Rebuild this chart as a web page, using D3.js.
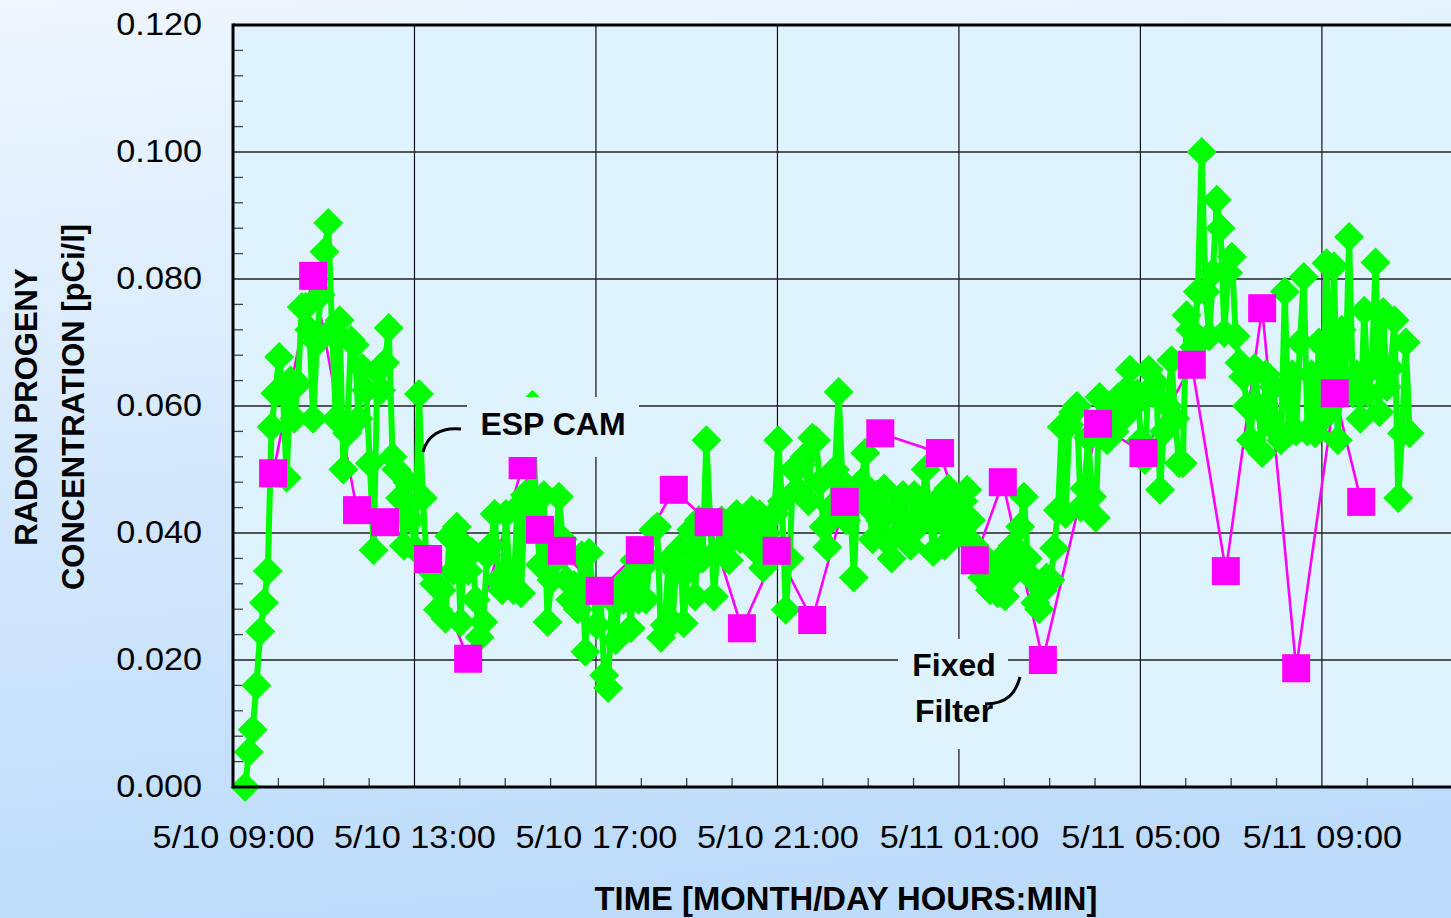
<!DOCTYPE html>
<html><head><meta charset="utf-8">
<script src="https://cdn.jsdelivr.net/npm/d3@7"></script>
<style>html,body{margin:0;padding:0;overflow:hidden;background:#fff}</style>
</head><body>
<svg id="c" width="1451" height="918"></svg>
<script>
// ---------------- DATA ----------------
const espStart = "5/10 09:16";
const espIntervalMinutes = 5;
const espValues = [
  // 09:16 - 09:56
  0.000, 0.0055, 0.009, 0.016, 0.0245, 0.029, 0.034, 0.0567, 0.062,
  // 10:00
  0.0677, 0.062, 0.0487, 0.064, 0.058, 0.0635, 0.0756, 0.0756, 0.072, 0.058, 0.070, 0.0775,
  // 11:00
  0.0843, 0.0888, 0.072, 0.058, 0.0735, 0.050, 0.0557, 0.0704, 0.0696, 0.058, 0.066, 0.0625,
  // 12:00
  0.051, 0.0373, 0.0655, 0.0625, 0.0668, 0.0723, 0.052, 0.050, 0.0455, 0.038, 0.048, 0.042,
  // 13:00
  0.0375, 0.0619, 0.0455, 0.036, 0.034, 0.032, 0.0279, 0.031, 0.0265, 0.0395, 0.034, 0.041,
  // 14:00
  0.026, 0.038, 0.034, 0.037, 0.0295, 0.0236, 0.026, 0.0365, 0.038, 0.043, 0.0326, 0.031,
  // 15:00
  0.043, 0.0326, 0.031, 0.044, 0.0305, 0.046, 0.0436, 0.0602, 0.042, 0.035, 0.046, 0.026,
  // 16:00
  0.0326, 0.0357, 0.0457, 0.039, 0.0326, 0.0295, 0.0318, 0.028, 0.0365, 0.0213, 0.0369, 0.031,
  // 17:00
  0.0255, 0.030, 0.0176, 0.0156, 0.0295, 0.0231, 0.031, 0.0295, 0.0326, 0.025, 0.0357, 0.0295,
  // 18:00
  0.0357, 0.0295, 0.0357, 0.0405, 0.041, 0.0235, 0.0255, 0.0357, 0.026, 0.034, 0.0376, 0.0258,
  // 19:00
  0.034, 0.0405, 0.030, 0.042, 0.036, 0.0546, 0.042, 0.030, 0.0373, 0.042, 0.038, 0.0357,
  // 20:00
  0.0405, 0.043, 0.039, 0.042, 0.039, 0.0436, 0.0373, 0.043, 0.0345, 0.040, 0.036, 0.043,
  // 21:00
  0.0546, 0.045, 0.0279, 0.036, 0.050, 0.0468, 0.0507, 0.052, 0.045, 0.055, 0.0546, 0.048,
  // 22:00
  0.041, 0.0378, 0.044, 0.050, 0.0622, 0.048, 0.042, 0.045, 0.033, 0.046, 0.048, 0.0526,
  // 23:00
  0.044, 0.039, 0.046, 0.042, 0.047, 0.0385, 0.036, 0.044, 0.040, 0.046, 0.042, 0.038,
  // 00:00
  0.046, 0.041, 0.044, 0.050, 0.043, 0.037, 0.045, 0.042, 0.038, 0.047, 0.041, 0.044,
  // 01:00
  0.040, 0.045, 0.0468, 0.042, 0.038, 0.035, 0.033, 0.036, 0.031, 0.034, 0.0305, 0.036,
  // 02:00
  0.030, 0.033, 0.038, 0.035, 0.041, 0.0457, 0.036, 0.033, 0.029, 0.028, 0.031, 0.033,
  // 03:00
  0.0326, 0.0376, 0.0436, 0.0567, 0.043, 0.057, 0.059, 0.060, 0.044, 0.047, 0.055, 0.0457,
  // 04:00
  0.0424, 0.0614, 0.058, 0.0546, 0.060, 0.056, 0.0614, 0.058, 0.0625, 0.0657, 0.060, 0.062,
  // 05:00
  0.0546, 0.0515, 0.0657, 0.062, 0.0636, 0.0468, 0.056, 0.060, 0.0672, 0.058, 0.051, 0.051,
  // 06:00
  0.0743, 0.072, 0.0693, 0.078, 0.100, 0.078, 0.071, 0.081, 0.0925, 0.088, 0.0715, 0.081,
  // 07:00
  0.0835, 0.071, 0.0668, 0.0646, 0.060, 0.0546, 0.066, 0.060, 0.0526, 0.065, 0.058, 0.063,
  // 08:00
  0.056, 0.0546, 0.078, 0.0557, 0.065, 0.056, 0.070, 0.0803, 0.056, 0.065, 0.0557, 0.070,
  // 09:00
  0.058, 0.0825, 0.060, 0.082, 0.0546, 0.072, 0.063, 0.0866, 0.062, 0.065, 0.058, 0.075,
  // 10:00
  0.062, 0.066, 0.0826, 0.059, 0.0748, 0.063, 0.066, 0.0735, 0.0455, 0.0557, 0.070, 0.0557
];

const fixedTimes = [
  "5/10 09:53", "5/10 10:46", "5/10 11:44", "5/10 12:21", "5/10 13:18", "5/10 14:11",
  "5/10 15:23", "5/10 15:46", "5/10 16:15", "5/10 17:05", "5/10 17:58", "5/10 18:43",
  "5/10 19:29", "5/10 20:13", "5/10 20:59", "5/10 21:46", "5/10 22:29", "5/10 23:16",
  "5/11 00:35", "5/11 01:21", "5/11 01:58", "5/11 02:51", "5/11 04:04", "5/11 05:04",
  "5/11 06:08", "5/11 06:53", "5/11 07:41", "5/11 08:26", "5/11 09:17", "5/11 09:52"
];
const fixedValues = [
  0.0494, 0.0805, 0.0436, 0.0417, 0.0359, 0.0202,
  0.0507, 0.0405, 0.0372, 0.0309, 0.0373, 0.0468,
  0.0417, 0.0250, 0.0372, 0.0263, 0.0449, 0.0557,
  0.0526, 0.0357, 0.0480, 0.0200, 0.0572, 0.0526,
  0.0665, 0.0340, 0.0754, 0.0187, 0.0620, 0.0449
];

const xTickLabels = ["5/10 09:00", "5/10 13:00", "5/10 17:00", "5/10 21:00", "5/11 01:00", "5/11 05:00", "5/11 09:00"];
const xDomainLabels = ["5/10 09:00", "5/11 12:00"];
const yTickValues = [0.000, 0.020, 0.040, 0.060, 0.080, 0.100, 0.120];
const yDomain = [0, 0.120];
const yMinorStep = 0.004;

const yTitleLines = ["RADON PROGENY", "CONCENTRATION [pCi/l]"];
const xTitle = "TIME [MONTH/DAY HOURS:MIN]";
const espLabel = "ESP CAM";
const fixedLabelLines = ["Fixed", "Filter"];

// ---------------- CHART ----------------
const W = 1451, H = 918;
const pL = 233, pT = 25, pB = 787, pR = 1458;
const FONT = "'Liberation Sans', Arial, Helvetica, sans-serif";
const plotBg = "#dff3ff";

const parse = d3.timeParse("%m/%d %H:%M");
const fmt = d3.timeFormat("%-m/%d %H:%M");

const t0 = parse(espStart);
const esp = espValues.map((v, i) => ({ t: d3.timeMinute.offset(t0, i * espIntervalMinutes), v }));
const fixed = fixedTimes.map((s, i) => ({ t: parse(s), v: fixedValues[i] }));
const xTicks = xTickLabels.map(parse);

const x = d3.scaleTime().domain(xDomainLabels.map(parse)).range([pL, pR]);
const y = d3.scaleLinear().domain(yDomain).range([pB, pT]);

const svg = d3.select("#c");
const defs = svg.append("defs");
const grad = defs.append("linearGradient").attr("id", "bg").attr("x1", 0).attr("y1", 0).attr("x2", 0.15).attr("y2", 1);
grad.append("stop").attr("offset", "0%").attr("stop-color", "#eef6fe");
grad.append("stop").attr("offset", "100%").attr("stop-color", "#bddcfb");

svg.append("rect").attr("width", W).attr("height", H).attr("fill", "url(#bg)");
svg.append("rect").attr("x", pL).attr("y", pT).attr("width", pR - pL).attr("height", pB - pT).attr("fill", plotBg);

// gridlines
const grid = svg.append("g");
grid.selectAll("line.v").data(xTicks.slice(1)).join("line")
  .attr("x1", d => x(d)).attr("x2", d => x(d)).attr("y1", pT).attr("y2", pB)
  .attr("stroke", "#111").attr("stroke-width", 1.2);
grid.selectAll("line.h").data(yTickValues.filter(v => v > yDomain[0] && v < yDomain[1])).join("line")
  .attr("x1", pL).attr("x2", pR).attr("y1", d => y(d)).attr("y2", d => y(d))
  .attr("stroke", "#222").attr("stroke-width", 1.3);

// minor ticks
const yMinor = d3.range(yDomain[0], yDomain[1] + 1e-9, yMinorStep).filter(v => Math.abs(v / 0.02 - Math.round(v / 0.02)) > 1e-6);
grid.selectAll("line.ym").data(yMinor).join("line")
  .attr("x1", pL).attr("x2", pL + 10).attr("y1", d => y(d)).attr("y2", d => y(d))
  .attr("stroke", "#444").attr("stroke-width", 1.3);
const xMinor = d3.timeHour.range(x.domain()[0], x.domain()[1]).filter(d => !xTicks.some(t => +t === +d));
grid.selectAll("line.xm").data(xMinor).join("line")
  .attr("x1", d => x(d)).attr("x2", d => x(d)).attr("y1", pB).attr("y2", pB - 9)
  .attr("stroke", "#444").attr("stroke-width", 1.3);

// series
const line = d3.line().x(d => x(d.t)).y(d => y(d.v));
svg.append("path").datum(fixed).attr("d", line).attr("fill", "none")
  .attr("stroke", "#ff00ff").attr("stroke-width", 2.6).attr("stroke-linejoin", "round");
svg.append("path").datum(esp).attr("d", line).attr("fill", "none")
  .attr("stroke", "#00ff00").attr("stroke-width", 6).attr("stroke-linejoin", "round");
const dia = "M0,-15L15,0L0,15L-15,0Z";
svg.append("g").selectAll("path").data(esp).join("path")
  .attr("d", dia).attr("transform", d => `translate(${x(d.t)},${y(d.v)})`)
  .attr("fill", "#00ff00");
svg.append("g").selectAll("rect").data(fixed).join("rect")
  .attr("x", d => x(d.t) - 14).attr("y", d => y(d.v) - 14).attr("width", 28).attr("height", 28)
  .attr("fill", "#ff00ff");

// annotation boxes
svg.append("rect").attr("x", 467).attr("y", 397).attr("width", 172).attr("height", 60).attr("fill", plotBg);
svg.append("text").attr("x", 553).attr("y", 435).attr("text-anchor", "middle")
  .attr("font-family", FONT).attr("font-weight", "bold").attr("font-size", 32).text(espLabel);
svg.append("path").attr("d", "M461,429 C440,427 427,436 423,452").attr("fill", "none")
  .attr("stroke", "#000").attr("stroke-width", 3);

svg.append("rect").attr("x", 898).attr("y", 639).attr("width", 110).attr("height", 110).attr("fill", plotBg);
svg.selectAll("text.ff").data(fixedLabelLines).join("text")
  .attr("x", 954).attr("y", (d, i) => 676 + i * 46).attr("text-anchor", "middle")
  .attr("font-family", FONT).attr("font-weight", "bold").attr("font-size", 32).text(d => d);
svg.append("path").attr("d", "M1020,677 C1016,692 1008,704 985,704").attr("fill", "none")
  .attr("stroke", "#000").attr("stroke-width", 3);

// axes frame
svg.append("line").attr("x1", pL).attr("x2", pL).attr("y1", pT - 1.5).attr("y2", pB + 1.5).attr("stroke", "#000").attr("stroke-width", 3);
svg.append("line").attr("x1", pL).attr("x2", pR).attr("y1", pB).attr("y2", pB).attr("stroke", "#000").attr("stroke-width", 3);
svg.append("line").attr("x1", pL).attr("x2", pR).attr("y1", pT).attr("y2", pT).attr("stroke", "#000").attr("stroke-width", 3);

// tick labels via axes
const yAxis = svg.append("g").attr("transform", `translate(${pL},0)`)
  .call(d3.axisLeft(y).tickValues(yTickValues).tickFormat(d3.format(".3f")).tickSize(0).tickPadding(31));
const xAxis = svg.append("g").attr("transform", `translate(0,${pB})`)
  .call(d3.axisBottom(x).tickValues(xTicks).tickFormat(fmt).tickSize(0).tickPadding(38));
[yAxis, xAxis].forEach(a => {
  a.select(".domain").remove();
  a.selectAll("text").attr("font-family", FONT).attr("font-size", 32).attr("fill", "#000");
});
yAxis.selectAll("text").attr("dy", "0.3em");
xAxis.selectAll("text").attr("dy", "0.72em");
svg.selectAll(".tick text").each(function () {
  const L = this.getComputedTextLength();
  d3.select(this).attr("textLength", L * 1.07).attr("lengthAdjust", "spacingAndGlyphs");
});

// titles
svg.selectAll("text.yt").data(yTitleLines).join("text")
  .attr("transform", (d, i) => `translate(${37 + i * 47},407) rotate(-90)`)
  .attr("text-anchor", "middle").attr("font-family", FONT).attr("font-weight", "bold")
  .attr("font-size", 31).text(d => d);
svg.append("text").attr("x", 846).attr("y", 910).attr("text-anchor", "middle")
  .attr("font-family", FONT).attr("font-weight", "bold").attr("font-size", 33)
  .attr("textLength", 503).attr("lengthAdjust", "spacingAndGlyphs").text(xTitle);
</script>
</body></html>
